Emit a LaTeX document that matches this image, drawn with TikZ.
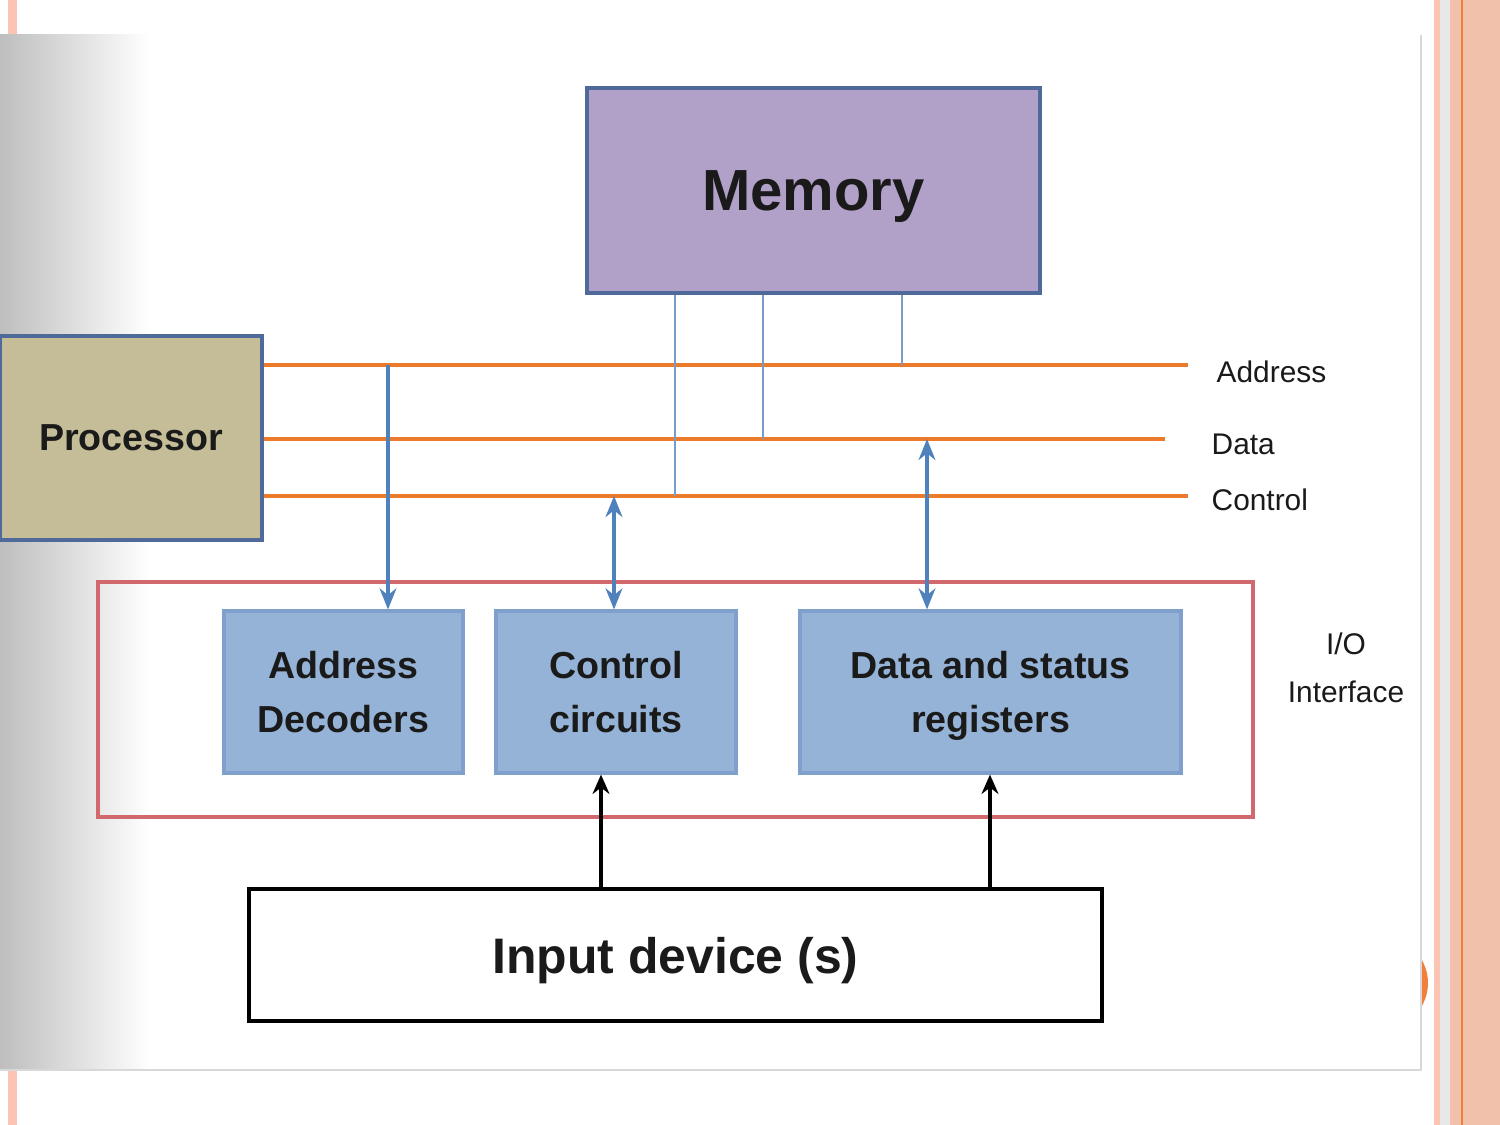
\documentclass[tikz,border=0pt]{standalone}
\usepackage{fontspec}
\setmainfont{Liberation Sans}
\usetikzlibrary{arrows.meta}
\usetikzlibrary{positioning}
\definecolor{mbus}{HTML}{EB7A2A}
\definecolor{mmem}{HTML}{B1A0C7}
\definecolor{mproc}{HTML}{C4BD97}
\definecolor{munit}{HTML}{95B3D7}
\definecolor{mframe}{HTML}{4F6A9A}
\definecolor{munitline}{HTML}{7F9FCC}
\definecolor{mlink}{HTML}{4F81BD}
\definecolor{mtap}{HTML}{7A9ACB}
\definecolor{mio}{HTML}{D0686E}
\definecolor{mtext}{HTML}{1A1A1A}
\definecolor{mpink}{HTML}{FCC4B2}
\definecolor{msalmon}{HTML}{F2C1AB}
\definecolor{morange}{HTML}{F0803C}
\definecolor{mgrey}{HTML}{BEBEBE}
\tikzset{membox/.style = {draw=mframe, fill=mmem, line width=0.9pt,
                          minimum width=4.53cm, minimum height=2.05cm, text depth=0pt,
                          font=\bfseries\fontsize{16.5}{20}\selectfont, text=mtext}}
\tikzset{procbox/.style = {draw=mframe, fill=mproc, line width=0.9pt,
                           minimum width=2.62cm, minimum height=2.04cm,
                           font=\bfseries\fontsize{10.7}{15.4}\selectfont, text=mtext}}
\tikzset{unit/.style = {draw=munitline, fill=munit, line width=0.9pt,
                        minimum height=1.62cm, align=center, inner sep=0pt, text depth=0pt,
                        font=\bfseries\fontsize{10.7}{15.4}\selectfont, text=mtext}}
\tikzset{inbox/.style = {draw=black, fill=white, line width=1.4pt,
                         minimum width=8.53cm, minimum height=1.32cm, text depth=0pt,
                         font=\bfseries\fontsize{14.2}{17}\selectfont, text=mtext}}
\tikzset{iobox/.style = {draw=mio, line width=0.9pt,
                         minimum width=11.55cm, minimum height=2.35cm}}
\tikzset{buslabel/.style = {anchor=west, inner sep=0pt, align=center,
                            font=\fontsize{8.5}{13.5}\selectfont, text=mtext}}
\tikzset{bus/.style = {draw=mbus, line width=1.2pt}}
\tikzset{tap/.style = {draw=mtap, line width=0.6pt}}
\tikzset{link/.style = {draw=mlink, line width=0.9pt}}
\tikzset{feed/.style = {draw=black, line width=1.1pt, -{Stealth[length=5.5pt, width=4.8pt]}}}

\begin{document}
\begin{tikzpicture}[tip/.tip = {Stealth[length=6pt, width=4.8pt]}]
  \useasboundingbox (0, 0) rectangle (15, 11.25);
  % slide behind the picture
  \fill [white] (0, 0) rectangle (15, 11.25);
  \fill [mpink] (0.08, 0) rectangle (0.17, 11.25);
  \fill [mpink] (14.34, 0) rectangle (14.40, 11.25);
  \fill [mgrey!35] (14.40, 0) rectangle (14.50, 11.25);
  \fill [msalmon] (14.50, 0) rectangle (15, 11.25);
  \draw [morange, line width=0.5pt] (14.62, 0) -- (14.62, 11.25);
  \fill [morange] (13.82, 1.42) circle (0.46);
  \fill [white] (0, 0.55) rectangle (14.21, 10.90);
  \shade [left color=mgrey, right color=white] (0, 0.55) rectangle (1.5, 10.90);
  \draw [mgrey!60, line width=0.6pt] (0, 0.55) -- (14.21, 0.55) -- (14.21, 10.90);

  % memory and processor
  \node [membox] (mem) at (8.135, 9.345) {Memory};
  \node [procbox] (proc) at (1.31, 6.87) {Processor};

  % system bus
  \coordinate (abus) at (11.88, 7.60);
  \coordinate (dbus) at (11.65, 6.86);
  \coordinate (cbus) at (11.88, 6.29);
  \draw [bus] (proc.east |- abus) -- (abus);
  \draw [bus] (proc.east |- dbus) -- (dbus);
  \draw [bus] (proc.east |- cbus) -- (cbus);
  \node [buslabel] (alabel) at (12.16, 7.53) {Address};
  \node [buslabel] (dlabel) at (12.11, 6.81) {Data};
  \node [buslabel] (clabel) at (12.11, 6.25) {Control};

  % memory taps
  \coordinate (tap1) at (6.75, 6.29);
  \coordinate (tap2) at (7.63, 6.86);
  \coordinate (tap3) at (9.02, 7.60);
  \draw [tap] (mem.south -| tap1) -- (tap1);
  \draw [tap] (mem.south -| tap2) -- (tap2);
  \draw [tap] (mem.south -| tap3) -- (tap3);

  % I/O interface
  \node [iobox] (io) at (6.755, 4.255) {};
  \node [unit, minimum width=2.39cm] (addrdec) at (3.435, 4.33) {Address\\Decoders};
  \node [unit, minimum width=2.40cm] (ctrlcirc) at (6.16, 4.33) {Control\\circuits};
  \node [unit, minimum width=3.81cm] (datareg) at (9.905, 4.33) {Data and status\\registers};
  \node [buslabel, anchor=center] (iolabel) at (13.46, 4.57) {I/O\\Interface};

  \coordinate (atap) at (3.88, 7.60);
  \coordinate (ctap) at (6.14, 6.29);
  \coordinate (dtap) at (9.27, 6.86);
  \draw [link, -tip] (atap) -- (atap |- addrdec.north);
  \draw [link, tip-tip] (ctap) -- (ctap |- ctrlcirc.north);
  \draw [link, tip-tip] (dtap) -- (dtap |- datareg.north);

  % input device
  \node [inbox] (indev) at (6.755, 1.70) {Input device (s)};
  \coordinate (feed1) at ([xshift=-0.745cm] indev.north);
  \coordinate (feed2) at ([xshift=3.145cm] indev.north);
  \draw [feed] (feed1) -- (feed1 |- ctrlcirc.south);
  \draw [feed] (feed2) -- (feed2 |- datareg.south);
\end{tikzpicture}
\end{document}
